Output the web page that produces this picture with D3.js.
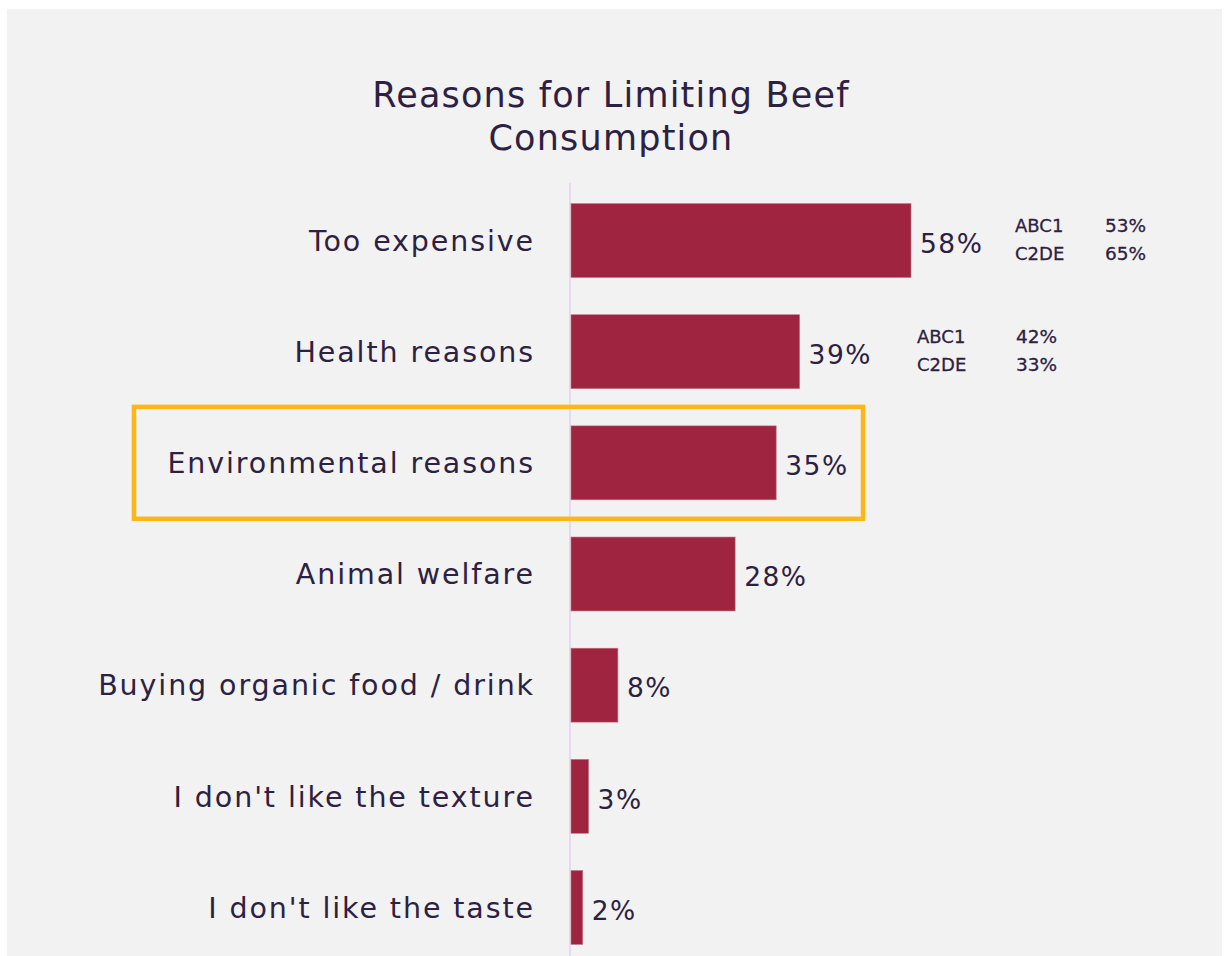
<!DOCTYPE html>
<html>
<head>
<meta charset="utf-8">
<script src="https://cdn.jsdelivr.net/npm/d3@7"></script>
<style>
  html, body { margin: 0; padding: 0; background: #ffffff; }
  svg { display: block; }
  text { font-family: "DejaVu Sans", sans-serif; fill: #2d2142; }
</style>
</head>
<body>
<svg id="chart" width="1224" height="956"></svg>
<script>
// Survey answers, in display order
const categories = [
  "Too expensive",
  "Health reasons",
  "Environmental reasons",
  "Animal welfare",
  "Buying organic food / drink",
  "I don't like the texture",
  "I don't like the taste"
];
const values = [58, 39, 35, 28, 8, 3, 2];

// Social-grade breakdowns shown beside the top two answers
const gradeGroups = ["ABC1", "C2DE"];
const tooExpensiveByGrade = [53, 65];
const healthByGrade = [42, 33];

const highlighted = "Environmental reasons";
const titleLines = ["Reasons for Limiting Beef", "Consumption"];

const svg = d3.select("#chart");

// panel background
svg.append("rect")
  .attr("x", 7).attr("y", 9)
  .attr("width", 1215).attr("height", 947)
  .attr("fill", "#f2f2f2");

// title
svg.append("g").selectAll("text")
  .data(titleLines)
  .join("text")
  .attr("x", 611)
  .attr("y", (d, i) => 107 + i * 43)
  .attr("text-anchor", "middle")
  .attr("font-size", 35)
  .attr("letter-spacing", 1.2)
  .text(d => d);

const x = d3.scaleLinear().domain([0, 58]).range([570, 910]);
const y = d3.scaleBand().domain(categories).range([185, 963]).paddingInner(0.335).paddingOuter(0.167);

// baseline axis
svg.append("line")
  .attr("x1", x(0)).attr("x2", x(0))
  .attr("y1", 183).attr("y2", 956)
  .attr("stroke", "#e8d9f0").attr("stroke-width", 2);

// bars
svg.append("g").selectAll("rect")
  .data(values)
  .join("rect")
  .attr("x", x(0) + 1)
  .attr("y", (d, i) => y(categories[i]))
  .attr("width", d => x(d) - x(0))
  .attr("height", y.bandwidth())
  .attr("fill", "#9e2440")
  .attr("stroke", "#c07585")
  .attr("stroke-width", 0.6);

// category labels
const yAxis = d3.axisLeft(y).tickSize(0).tickPadding(0);
const axisG = svg.append("g")
  .attr("transform", `translate(535,0)`)
  .call(yAxis);
axisG.select(".domain").remove();
axisG.selectAll("text")
  .attr("font-size", 28.5)
  .attr("letter-spacing", 1.9)
  .attr("font-family", "'DejaVu Sans', sans-serif")
  .attr("fill", "#2d2142")
  .attr("dy", "0.36em");

// value labels
svg.append("g").selectAll("text")
  .data(values)
  .join("text")
  .attr("x", d => x(d) + 10)
  .attr("y", (d, i) => y(categories[i]) + y.bandwidth() / 2 + 3)
  .attr("dy", "0.35em")
  .attr("font-size", 26.5)
  .attr("letter-spacing", 1.5)
  .text(d => d + "%");

// grade breakdown notes
function gradeNote(cat, vals, labelX, valX) {
  const g = svg.append("g");
  const cy = y(cat) + y.bandwidth() / 2;
  gradeGroups.forEach((grp, i) => {
    const ty = cy - 15 + i * 28;
    g.append("text").attr("x", labelX).attr("y", ty).attr("dy", "0.35em")
      .attr("font-size", 18).attr("stroke", "#2d2142").attr("stroke-width", 0.3).text(grp);
    g.append("text").attr("x", valX).attr("y", ty).attr("dy", "0.35em")
      .attr("font-size", 18.5).attr("stroke", "#2d2142").attr("stroke-width", 0.3).text(vals[i] + "%");
  });
}
gradeNote("Too expensive", tooExpensiveByGrade, 1015, 1105);
gradeNote("Health reasons", healthByGrade, 917, 1016);

// highlight box around the environmental answer
const hy = y(highlighted);
svg.append("rect")
  .attr("x", 134)
  .attr("y", hy - 19)
  .attr("width", 729)
  .attr("height", y.bandwidth() + 38)
  .attr("fill", "none")
  .attr("stroke", "#fbb617")
  .attr("stroke-width", 4.5);
</script>
</body>
</html>
